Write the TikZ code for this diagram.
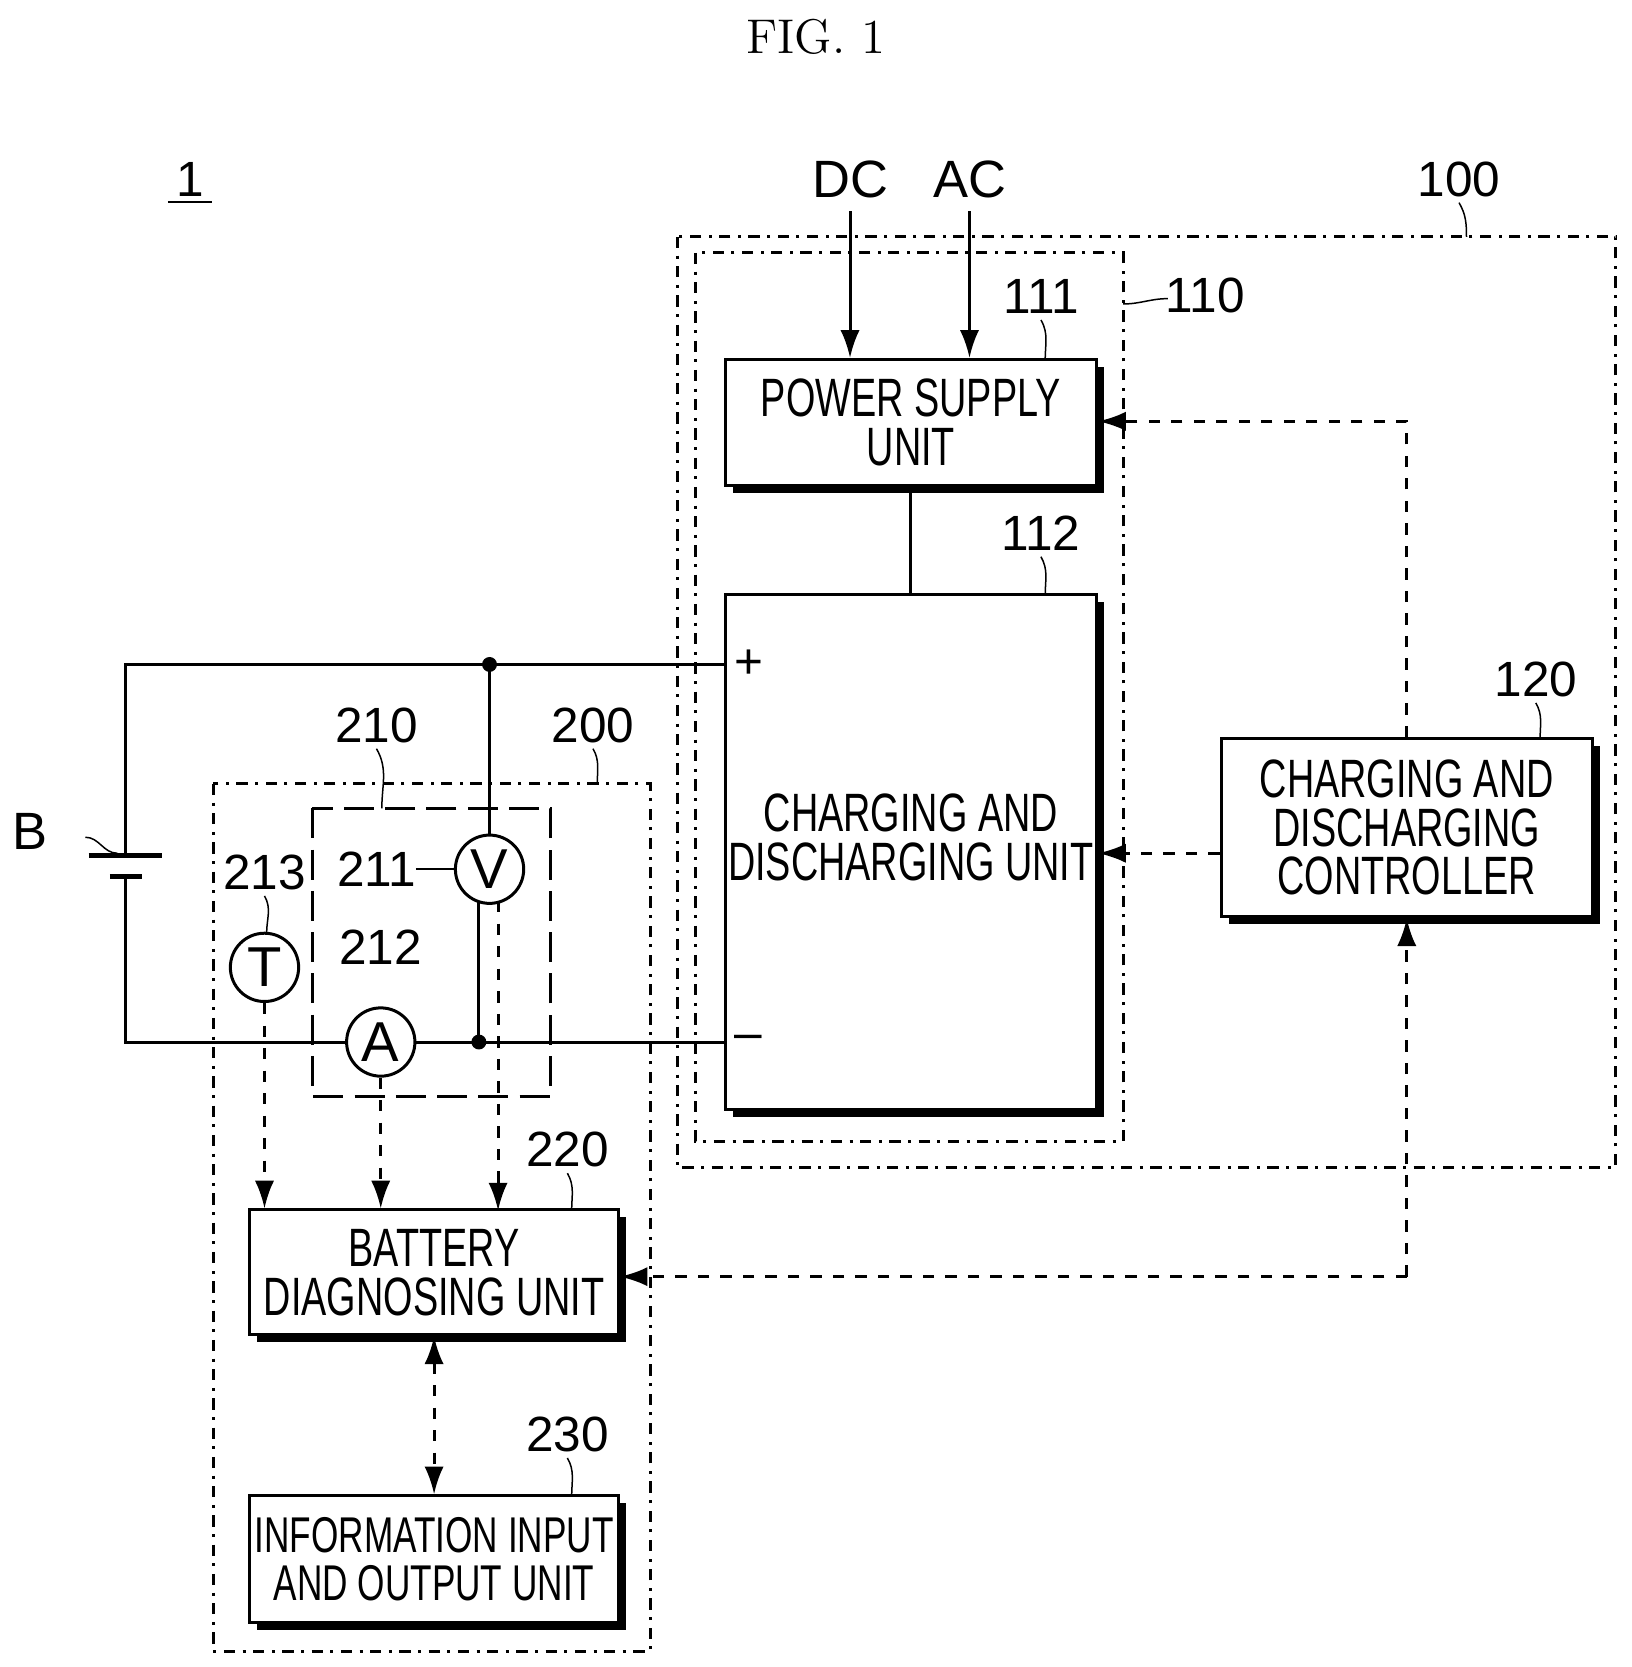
\documentclass[tikz,border=0pt]{standalone}
\usepackage{fontspec}
\newfontfamily\lbl[FakeStretch=0.70]{Liberation Sans}
\newfontfamily\numf{Liberation Sans}
\usetikzlibrary{arrows.meta,shadows}
\tikzset{
  blk/.style={draw, thick, fill=white, align=center, inner sep=1pt, font=\lbl\fontsize{14.4}{16}\selectfont,
    drop shadow={fill=black, opacity=1, shadow xshift=0.7mm, shadow yshift=-0.7mm}},
  meter/.style={draw, thick, circle, fill=white, minimum size=0.64cm, inner sep=0pt, font=\numf\fontsize{15}{18}\selectfont},
  num/.style={font=\numf\fontsize{13.2}{16}\selectfont},
  frame/.style={thick, dash dot},
  sig/.style={dashed, thick, -{Latex[length=2.6mm,width=1.8mm]}},
  lead/.style={thin}
}
\begin{document}
\begin{tikzpicture}[x=0.01cm, y=-0.01cm, >={Latex[length=2.6mm,width=1.8mm]}]
\useasboundingbox (0,0) rectangle (1530,1563);
\node[font=\fontsize{13}{16}\selectfont] (fig) at (765,35) {FIG. 1};
\node[num] (one) at (178,172) {\underline{\,1\,}};

% frames
\draw[frame] (635,222) rectangle (1515,1095);
\draw[frame] (652,237) rectangle (1053,1070);
\draw[frame] (200,735) rectangle (610,1548);
\draw[thick, dash pattern=on 8pt off 3pt] (293,758) rectangle (516,1028);

% blocks
\node[blk, minimum width=3.48cm, minimum height=1.18cm] (psu) at (854,396) {POWER SUPPLY\\[-3pt]UNIT};
\node[blk, minimum width=3.48cm, minimum height=4.82cm] (cdu) at (854,799) {};
\node[font=\lbl\fontsize{14.4}{16}\selectfont, align=center] (cdutxt) at (854,785) {CHARGING AND\\[-3pt]DISCHARGING UNIT};
\node[blk, minimum width=3.48cm, minimum height=1.67cm] (ctrl) at (1319,776) {CHARGING AND\\[-3pt]DISCHARGING\\[-3pt]CONTROLLER};
\node[blk, minimum width=3.45cm, minimum height=1.17cm] (diag) at (407,1193) {BATTERY\\[-3pt]DIAGNOSING UNIT};
\node[blk, minimum width=3.45cm, minimum height=1.19cm, font=\lbl\fontsize{13.4}{16}\selectfont] (io) at (407,1462) {INFORMATION INPUT\\[-3pt]AND OUTPUT UNIT};

% inputs
\node[num, font=\numf\fontsize{14}{17}\selectfont] (dc) at (797,168) {DC};
\node[num, font=\numf\fontsize{14}{17}\selectfont] (ac) at (909,168) {AC};
\draw[thick, ->] (dc) -- (dc |- psu.north);
\draw[thick, ->] (ac) -- (ac |- psu.north);
\draw[thick] (psu) -- (cdu);

% battery
\coordinate (bp) at (118,802);
\coordinate (bn) at (118,822);
\draw[very thick] (83,802) -- (152,802);
\draw[very thick] (103,822) -- (133,822);
\node[num, font=\numf\fontsize{14}{17}\selectfont] (blab) at (28,780) {B};
\draw[lead] (80,785) to[out=0, in=180] (110,800);

% terminals
\node[num] (plus) at (702,623) {+};
\node[num] (minus) at (702,977) {\textendash};
\coordinate (tp) at (680,623);
\coordinate (tn) at (680,977);
\node[meter] (vm) at (459,815) {V};
\node[meter] (am) at (357,977) {A};
\node[meter] (tm) at (248,907) {T};
\coordinate (vtop) at (459,623);
\coordinate (vbot) at (449,977);
\draw[thick] (bp) -- (118,623) -- (tp);
\draw[thick] (bn) -- (118,977) -- (am) -- (tn);
\draw[thick] (vtop) -- (vm);
\draw[thick] (449,845) -- (vbot);
\fill (vtop) circle (7);
\fill (vbot) circle (7);

% signals
\draw[sig] (tm) -- (tm |- diag.north);
\draw[sig] (am) -- (am |- diag.north);
\draw[sig] (467,845) -- (467,1135);
\draw[sig] (ctrl.north) -- (1319,395) -- (psu.east |- 0,395);
\draw[sig] (ctrl.west |- 0,800) -- (cdu.east |- 0,800);
\draw[sig] (1319,1197) -- (diag.east |- 0,1197);
\draw[sig] (1319,1197) -- (ctrl.south);
\draw[dashed, thick, {Latex[length=2.6mm,width=1.8mm]}-{Latex[length=2.6mm,width=1.8mm]}] (diag) -- (io);

% reference numerals
\node[num] (n100) at (1368,168) {100};
\draw[lead] (1368,190) to[out=-60, in=90] (1375,222);
\node[num] (n110) at (1130,277) {110};
\draw[lead] (1053,285) to[out=0, in=180] (1095,280);
\node[num] (n111) at (976,278) {111};
\draw[lead] (976,300) to[out=-60, in=90] (980,337);
\node[num] (n112) at (976,500) {112};
\draw[lead] (976,522) to[out=-60, in=90] (980,558);
\node[num] (n120) at (1440,637) {120};
\draw[lead] (1440,659) to[out=-60, in=90] (1444,693);
\node[num] (n200) at (556,680) {200};
\draw[lead] (556,702) to[out=-60, in=90] (560,735);
\node[num] (n210) at (353,680) {210};
\draw[lead] (353,702) to[out=-60, in=90] (358,758);
\node[num] (n211) at (353,815) {211};
\draw[lead] (390,815) to[out=0, in=180] (427,815);
\node[num] (n212) at (357,888) {212};
\node[num] (n213) at (248,818) {213};
\draw[lead] (248,840) to[out=-60, in=90] (250,875);
\node[num] (n220) at (532,1078) {220};
\draw[lead] (532,1100) to[out=-60, in=90] (536,1135);
\node[num] (n230) at (532,1345) {230};
\draw[lead] (532,1367) to[out=-60, in=90] (536,1403);
\end{tikzpicture}
\end{document}
